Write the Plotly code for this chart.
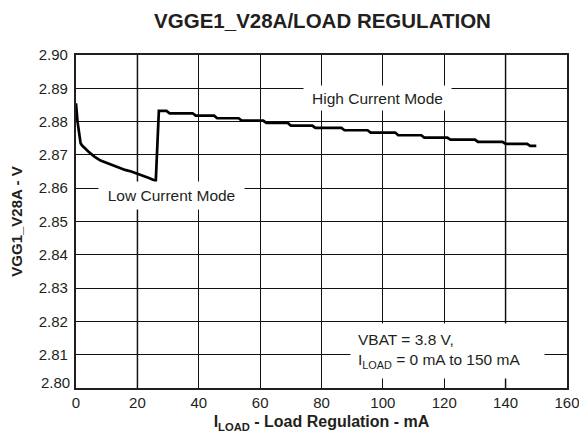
# load_regulation.py
# VGG1_V28A output voltage vs load current

import plotly.graph_objects as go

# Load current (mA) and measured output voltage (V)
i_load = [0, 0.5, 1.5, 2, 4, 6, 8, 10, 12, 14, 16, 18, 20, 22, 24, 26,
          27, 29.5, 30.5, 38, 39, 45, 46, 53, 54, 61, 62, 69, 70, 77, 78,
          86.5, 87.5, 95, 96, 104, 105, 112.5, 113.5, 121, 122, 130, 131,
          139, 140, 147, 148, 150]
v_out = [2.8855, 2.880, 2.8735, 2.8728, 2.8710, 2.8695, 2.8683, 2.8676,
         2.8668, 2.8662, 2.8655, 2.8650, 2.8644, 2.8638, 2.8630, 2.8622,
         2.8832, 2.8832, 2.8825, 2.8825, 2.8818, 2.8818, 2.8810, 2.8810,
         2.8803, 2.8803, 2.8796, 2.8796, 2.8788, 2.8788, 2.8781, 2.8781,
         2.8774, 2.8774, 2.8767, 2.8767, 2.8759, 2.8759, 2.8752, 2.8752,
         2.8746, 2.8746, 2.8739, 2.8739, 2.8733, 2.8733, 2.8727, 2.8727]

x_ticks = [0, 20, 40, 60, 80, 100, 120, 140, 160]
y_ticks = [2.80, 2.81, 2.82, 2.83, 2.84, 2.85, 2.86, 2.87, 2.88, 2.89, 2.90]
# bottom label is printed a little higher, drawn separately below
y_text = ["" if v == 2.80 else f"{v:.2f}" for v in y_ticks]

FONT = "Liberation Sans, Arial, sans-serif"
INK = "#231f20"

fig = go.Figure()
fig.add_trace(go.Scatter(
    x=i_load, y=v_out, mode="lines",
    line=dict(color="black", width=2.7),
    showlegend=False,
))

# the 20 and 140 mA gridlines are printed grey in the datasheet
for xv in (20, 140):
    fig.add_vline(x=xv, line=dict(color="#8c8c8c", width=2), layer="below")

fig.add_annotation(x=31.2, y=2.8578, text="Low Current Mode", showarrow=False,
                   bgcolor="white", width=143, height=25,
                   font=dict(size=15.5, color=INK, family=FONT))
fig.add_annotation(x=98.3, y=2.8872, text="High Current Mode", showarrow=False,
                   bgcolor="white", width=145, height=22,
                   font=dict(size=15.5, color=INK, family=FONT))
fig.add_annotation(x=120.9, y=2.8107,
                   text="VBAT = 3.8 V,<br>I<sub>LOAD</sub> = 0 mA to 150 mA",
                   showarrow=False, align="left", bgcolor="white",
                   width=179, height=40, borderpad=7, yshift=1,
                   font=dict(size=15.5, color=INK, family=FONT))
fig.add_annotation(x=0, xref="paper", xanchor="right", xshift=-4,
                   y=y_ticks[0], yshift=6, text=f"{y_ticks[0]:.2f}",
                   showarrow=False, font=dict(size=15, color=INK, family=FONT))

fig.update_layout(
    width=579, height=437,
    margin=dict(l=76, r=12, t=55, b=49),
    paper_bgcolor="white", plot_bgcolor="white",
    font=dict(family=FONT, size=15, color=INK),
    title=dict(text="<b>VGGE1_V28A/LOAD REGULATION</b>", x=0.557,
               xanchor="center", y=0.953, yanchor="middle",
               font=dict(size=20.5, color=INK)),
)
fig.update_xaxes(
    range=[0, 160], tickvals=x_ticks, ticks="", ticklabeloverflow="allow",
    showgrid=True, gridcolor="#111", gridwidth=1,
    showline=True, linecolor=INK, linewidth=2.3, mirror=True,
    zeroline=False, automargin=False,
    title=dict(text="<b>I<sub>LOAD</sub> - Load Regulation - mA</b>",
               font=dict(size=16, color=INK), standoff=6),
)
fig.update_yaxes(
    range=[2.80, 2.90], tickvals=y_ticks, ticktext=y_text, ticks="",
    showgrid=True, gridcolor="#111", gridwidth=1,
    showline=True, linecolor=INK, linewidth=2.3, mirror=True,
    zeroline=False, ticklabelstandoff=3, automargin=False,
    title=dict(text="<b>VGG1_V28A - V</b>", font=dict(size=15, color=INK),
               standoff=12),
)

# drop the default page margin and scrollbars so the figure fills the window
page_js = ("document.body.style.margin='0';"
           "document.body.style.overflow='hidden';"
           "document.documentElement.style.overflow='hidden';")
fig.write_html("out.html", post_script=page_js,
               config={"displayModeBar": False})
